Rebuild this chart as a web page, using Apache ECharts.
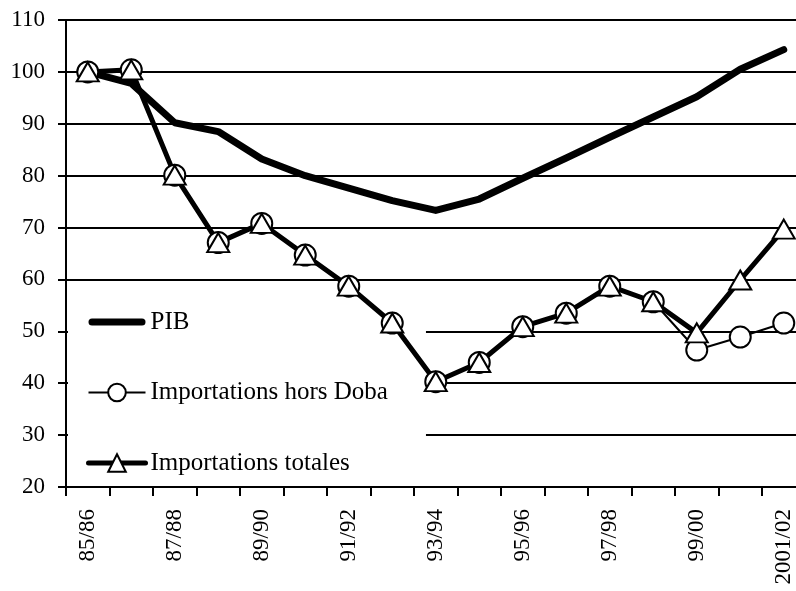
<!DOCTYPE html>
<html>
<head>
<meta charset="utf-8">
<script src="https://cdn.jsdelivr.net/npm/echarts@6/dist/echarts.min.js"></script>
<style>
html,body{margin:0;padding:0;background:#fff;}
#chart{width:796px;height:591px;}
</style>
</head>
<body>
<div id="chart"></div>
<script>
const categories = ['85/86','86/87','87/88','88/89','89/90','90/91','91/92','92/93','93/94','94/95','95/96','96/97','97/98','98/99','99/00','2000/01','2001/02'];
const pib = [100, 97.8, 90.2, 88.5, 83.2, 80.0, 77.6, 75.2, 73.3, 75.5, 79.5, 83.4, 87.4, 91.3, 95.2, 100.5, 104.3];
const horsDoba = [100, 100.4, 80.1, 67.1, 70.8, 64.7, 58.7, 51.6, 40.3, 44.0, 50.9, 53.5, 58.7, 55.7, 46.4, 48.9, 51.6];
const totales = [100, 100.4, 80.1, 67.1, 70.8, 64.7, 58.7, 51.6, 40.3, 44.0, 50.9, 53.5, 58.7, 55.7, 49.7, 59.9, 69.7];
const yTicks = { min: 20, max: 110, interval: 10 };

const FONT = 'Liberation Serif';
const chart = echarts.init(document.getElementById('chart'), null, { renderer: 'canvas' });
chart.setOption({
  animation: false,
  backgroundColor: '#fff',
  textStyle: { fontFamily: FONT, color: '#000' },
  grid: { left: 66, top: 20, width: 739.5, bottom: 104, containLabel: false, outerBoundsMode: 'none' },
  legend: {
    orient: 'vertical',
    left: 68,
    top: 292,
    z: 1,
    backgroundColor: '#fff',
    padding: [16, 38, 6, 18],
    itemWidth: 57,
    itemHeight: 22,
    itemGap: 42.5,
    selectedMode: false,
    textStyle: { fontFamily: FONT, fontSize: 25, color: '#000', lineHeight: 28 },
    data: [
      { name: 'PIB', icon: 'path://M3.5,0H53.5A3.5,3.5,0,0,1,53.5,7H3.5A3.5,3.5,0,0,1,3.5,0Z', itemStyle: { color: '#000', borderWidth: 0 } },
      { name: 'Importations hors Doba', lineStyle: { color: '#000', width: 2 }, itemStyle: { color: '#fff', borderColor: '#000', borderWidth: 2 } },
      { name: 'Importations totales', lineStyle: { color: '#000', width: 5 }, itemStyle: { color: '#fff', borderColor: '#000', borderWidth: 2 } }
    ]
  },
  xAxis: {
    type: 'category',
    data: categories,
    boundaryGap: true,
    axisLine: { lineStyle: { color: '#000', width: 2 } },
    axisTick: { show: true, interval: 0, length: 9, lineStyle: { color: '#000', width: 2 } },
    axisLabel: { interval: 1, rotate: 90, margin: 22, fontFamily: FONT, fontSize: 23, color: '#000' },
    splitLine: { show: false }
  },
  yAxis: {
    type: 'value',
    min: yTicks.min,
    max: yTicks.max,
    interval: yTicks.interval,
    axisLine: { show: true, lineStyle: { color: '#000', width: 2 } },
    axisTick: { show: true, length: 8, lineStyle: { color: '#000', width: 2 } },
    axisLabel: { margin: 21, fontFamily: FONT, fontSize: 23, color: '#000' },
    splitLine: { show: true, lineStyle: { color: '#000', width: 2 } }
  },
  series: [
    {
      name: 'PIB', type: 'line', data: pib, z: 2,
      symbol: 'none',
      lineStyle: { color: '#000', width: 7, cap: 'round', join: 'round' }
    },
    {
      name: 'Importations totales', type: 'line', data: totales, z: 2,
      symbol: 'triangle', showSymbol: false, symbolSize: [22, 19],
      itemStyle: { color: '#fff', borderColor: '#000', borderWidth: 2 },
      lineStyle: { color: '#000', width: 5, cap: 'round', join: 'round' }
    },
    {
      name: 'Importations hors Doba', type: 'line', data: horsDoba, z: 3,
      symbol: 'circle', symbolSize: 21, showSymbol: true,
      itemStyle: { color: '#fff', borderColor: '#000', borderWidth: 2 },
      lineStyle: { color: '#000', width: 2, join: 'round' }
    },
    {
      name: 'Importations totales', type: 'scatter', data: totales, z: 4,
      symbol: 'triangle', symbolSize: [22, 19],
      itemStyle: { color: '#fff', borderColor: '#000', borderWidth: 2, opacity: 1 }
    }
  ]
});
</script>
</body>
</html>
